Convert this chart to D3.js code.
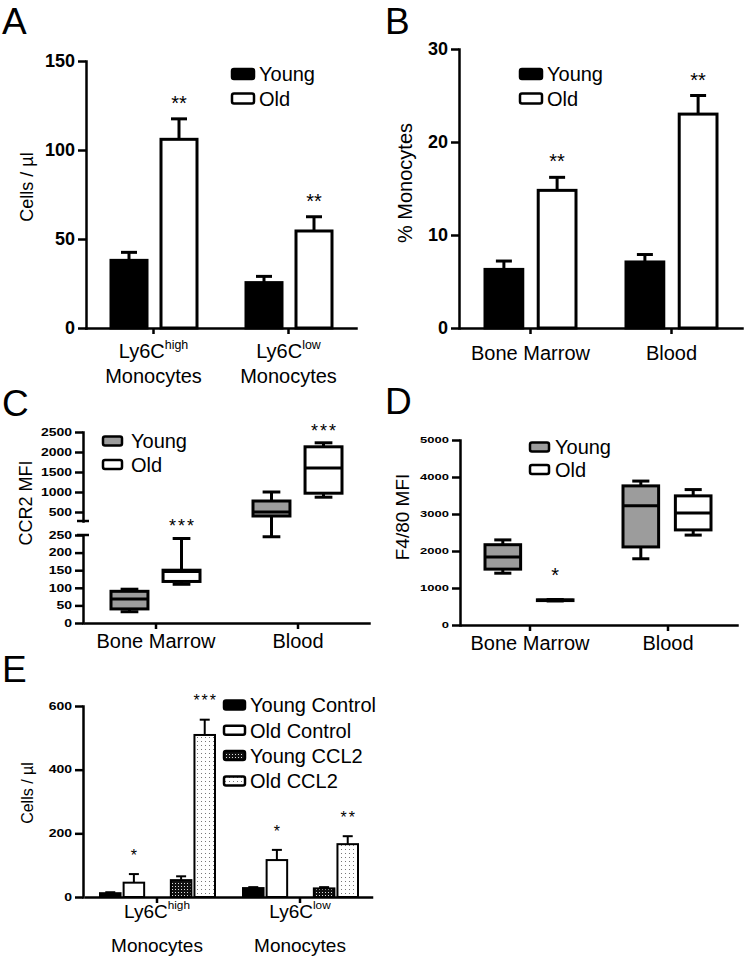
<!DOCTYPE html>
<html>
<head>
<meta charset="utf-8">
<script src="https://cdn.jsdelivr.net/npm/d3@7"></script>
<style>
  body { margin: 0; background: #fff; }
  svg { font-family: "Liberation Sans", Arial, sans-serif; }
</style>
</head>
<body>
<div id="fig"></div>
<script>
// ---------------- data ----------------
var ages = ["Young", "Old"];
var monoGroups = [["Ly6C", "high"], ["Ly6C", "low"]];
var tissues = ["Bone Marrow", "Blood"];

// A: cells / ul
var youngA = [38, 25.5], youngAErr = [4.5, 3.5];
var oldA = [106, 54.5], oldAErr = [11.5, 8];
var starsA = ["**", "**"];
var ticksA = [0, 50, 100, 150];

// B: % monocytes
var youngB = [6.3, 7.1], youngBErr = [0.9, 0.8];
var oldB = [14.8, 23.0], oldBErr = [1.4, 2.0];
var starsB = ["**", "**"];
var ticksB = [0, 10, 20, 30];

// C: CCR2 MFI, box stats [min, q1, median, q3, max]
var youngC = [[32, 40, 68, 90, 96], [245, 400, 500, 775, 1000]];
var oldC = [[110, 118, 146, 150, 240], [870, 970, 1600, 2130, 2230]];
var starsC = ["***", "***"];
var ticksCLow = [0, 50, 100, 150, 200, 250];
var ticksCUp = [500, 1000, 1500, 2000, 2500];

// D: F4/80 MFI
var youngD = [[1400, 1510, 1840, 2170, 2300], [1790, 2110, 3220, 3760, 3890]];
var oldD = [[650, 660, 670, 680, 690], [2430, 2570, 3030, 3490, 3660]];
var starsD = ["*", ""];
var ticksD = [0, 1000, 2000, 3000, 4000, 5000];

// E: cells / ul with CCL2
var seriesE = ["Young Control", "Old Control", "Young CCL2", "Old CCL2"];
var valuesE = [[12, 28], [45, 116], [53, 27], [509, 166]];
var errE = [[3, 3], [27, 32], [12, 4], [48, 25]];
var starsE = [["", ""], ["*", "*"], ["", ""], ["***", "**"]];
var ticksE = [0, 200, 400, 600];

// ---------------- svg ----------------
var svg = d3.select("#fig").append("svg")
  .attr("width", 746)
  .attr("height", 959);

var defs = svg.append("defs");
var pd = defs.append("pattern").attr("id", "dotsDark")
  .attr("patternUnits", "userSpaceOnUse").attr("width", 3).attr("height", 3);
pd.append("rect").attr("width", 3).attr("height", 3).attr("fill", "#111");
pd.append("rect").attr("x", 1).attr("y", 1).attr("width", 1).attr("height", 1).attr("fill", "#ddd");
var pl = defs.append("pattern").attr("id", "dotsLight")
  .attr("patternUnits", "userSpaceOnUse").attr("width", 4).attr("height", 4);
pl.append("rect").attr("width", 4).attr("height", 4).attr("fill", "#fff");
pl.append("rect").attr("x", 1).attr("y", 1).attr("width", 1).attr("height", 1).attr("fill", "#777");

var fillsE = ["#000", "#fff", "url(#dotsDark)", "url(#dotsLight)"];
var gray = "#9c9c9c";

// ---------------- helpers ----------------
function styleAxis(g, sw) {
  g.attr("font-family", null).attr("font-size", null);
  g.selectAll("path, line").attr("stroke", "#000").attr("stroke-width", sw);
  g.select(".domain").attr("stroke-linecap", "square");
}

function leftAxis(scale, ticks, x, fs, squish) {
  var g = svg.append("g").attr("transform", `translate(${x},0)`)
    .call(d3.axisLeft(scale).tickValues(ticks).tickFormat(d3.format("d"))
      .tickSize(8).tickSizeOuter(0).tickPadding(3));
  styleAxis(g, 2.5);
  g.selectAll("text")
    .attr("font-size", fs)
    .attr("font-weight", "bold")
    .attr("fill", "#000");
  if (squish) g.selectAll("text").attr("transform", "scale(1," + squish + ")");
  return g;
}

function bottomAxis(xBand, y) {
  var g = svg.append("g").attr("transform", `translate(0,${y})`)
    .call(d3.axisBottom(xBand).tickSize(6).tickSizeOuter(0).tickFormat(""));
  styleAxis(g, 2.5);
}

function panelLabel(t, x, y) {
  svg.append("text").attr("x", x).attr("y", y).attr("font-size", 37).text(t);
}

function yTitle(t, x, y, fs) {
  svg.append("text")
    .attr("transform", `translate(${x},${y}) rotate(-90)`)
    .attr("text-anchor", "middle")
    .attr("dy", "0.35em")
    .attr("font-size", fs)
    .text(t);
}

function monoLabels(xBand, y1, y2, fs) {
  monoGroups.forEach(function(m, i) {
    var cx = xBand(i) + xBand.bandwidth() / 2;
    var t = svg.append("text").attr("x", cx).attr("y", y1)
      .attr("text-anchor", "middle").attr("font-size", fs);
    t.append("tspan").text(m[0]);
    t.append("tspan").attr("dy", -9).attr("font-size", fs * 0.62).text(m[1]);
    svg.append("text").attr("x", cx).attr("y", y2)
      .attr("text-anchor", "middle").attr("font-size", fs).text("Monocytes");
  });
}

function tissueLabels(xBand, y, fs) {
  tissues.forEach(function(t, i) {
    svg.append("text").attr("x", xBand(i) + xBand.bandwidth() / 2).attr("y", y)
      .attr("text-anchor", "middle").attr("font-size", fs).text(t);
  });
}

function star(str, cx, topPx, gap, fs, ls) {
  if (!str) return;
  svg.append("text")
    .attr("x", cx + (ls || 0) / 2)
    .attr("y", topPx - gap + fs * 0.55)
    .attr("text-anchor", "middle")
    .attr("font-size", fs)
    .attr("letter-spacing", ls || 0)
    .text(str);
}

function bars(xBand, sub, y, key, vals, errs, fill, sw, capW, stars, starGap, starFs, starLs) {
  vals.forEach(function(v, i) {
    var x0 = xBand(i) + sub(key), w = sub.bandwidth(), cx = x0 + w / 2;
    var top = y(v + errs[i]);
    svg.append("line").attr("x1", cx).attr("x2", cx).attr("y1", y(v)).attr("y2", top)
      .attr("stroke", "#000").attr("stroke-width", sw);
    svg.append("line").attr("x1", cx - capW / 2).attr("x2", cx + capW / 2).attr("y1", top).attr("y2", top)
      .attr("stroke", "#000").attr("stroke-width", sw);
    svg.append("rect").attr("x", x0).attr("y", y(v)).attr("width", w).attr("height", y(0) - y(v))
      .attr("fill", fill).attr("stroke", "#000").attr("stroke-width", sw);
    if (stars) star(stars[i], cx, top, starGap, starFs, starLs);
  });
}

function boxes(xBand, sub, y, key, stats, fill, sw, stars, starGap, starFs, starLs) {
  stats.forEach(function(s, i) {
    var x0 = xBand(i) + sub(key), w = sub.bandwidth(), cx = x0 + w / 2, cw = w * 0.48;
    [[s[4], s[3]], [s[1], s[0]]].forEach(function(p) {
      svg.append("line").attr("x1", cx).attr("x2", cx).attr("y1", y(p[0])).attr("y2", y(p[1]))
        .attr("stroke", "#000").attr("stroke-width", sw);
    });
    [s[0], s[4]].forEach(function(v) {
      svg.append("line").attr("x1", cx - cw / 2).attr("x2", cx + cw / 2).attr("y1", y(v)).attr("y2", y(v))
        .attr("stroke", "#000").attr("stroke-width", sw);
    });
    svg.append("rect").attr("x", x0).attr("y", y(s[3])).attr("width", w).attr("height", y(s[1]) - y(s[3]))
      .attr("fill", fill).attr("stroke", "#000").attr("stroke-width", sw);
    svg.append("line").attr("x1", x0).attr("x2", x0 + w).attr("y1", y(s[2])).attr("y2", y(s[2]))
      .attr("stroke", "#000").attr("stroke-width", sw);
    if (stars) star(stars[i], cx, y(s[4]), starGap, starFs, starLs);
  });
}

function legend(x, y0, dy, labels, fills, bw, bh, tx) {
  labels.forEach(function(l, i) {
    var cy = y0 + i * dy;
    svg.append("rect").attr("x", x).attr("y", cy - bh / 2).attr("width", bw).attr("height", bh)
      .attr("rx", 2).attr("fill", fills[i]).attr("stroke", "#000").attr("stroke-width", 2.5);
    svg.append("text").attr("x", x + bw + tx).attr("y", cy + 7.2).attr("font-size", 20).text(l);
  });
}

// ---------------- A ----------------
var xA = d3.scaleBand().domain([0, 1]).range([86, 356]);
var subA = d3.scaleBand().domain(ages).range([25, 111]).paddingInner(0.28);
var yA = d3.scaleLinear().domain([0, 150]).range([328, 61]);
bars(xA, subA, yA, "Young", youngA, youngAErr, "#000", 3, 16);
bars(xA, subA, yA, "Old", oldA, oldAErr, "#fff", 3, 16, starsA, 20, 20);
leftAxis(yA, ticksA, 86, 18);
bottomAxis(xA, 328);
monoLabels(xA, 358, 383, 20);
yTitle("Cells / µl", 27, 187, 18);
legend(232, 74, 24.5, ages, ["#000", "#fff"], 22, 10, 5);
panelLabel("A", 2, 34);

// ---------------- B ----------------
var xB = d3.scaleBand().domain([0, 1]).range([460, 742]);
var subB = d3.scaleBand().domain(ages).range([25, 116]).paddingInner(0.29);
var yB = d3.scaleLinear().domain([0, 30]).range([328, 49]);
bars(xB, subB, yB, "Young", youngB, youngBErr, "#000", 3, 16);
bars(xB, subB, yB, "Old", oldB, oldBErr, "#fff", 3, 16, starsB, 20, 20);
leftAxis(yB, ticksB, 459, 18);
bottomAxis(xB, 328);
tissueLabels(xB, 360, 20);
yTitle("% Monocytes", 405, 183, 20);
legend(520, 74, 24.5, ages, ["#000", "#fff"], 22, 10, 5);
panelLabel("B", 385, 34);

// ---------------- C (broken axis) ----------------
var xC = d3.scaleBand().domain([0, 1]).range([85, 369]);
var subC = d3.scaleBand().domain(ages).range([26, 115]).paddingInner(0.29);
var yCLow = d3.scaleLinear().domain([0, 250]).range([623, 535]);
var yCUp = d3.scaleLinear().domain([275, 2500]).range([521, 432]);
var yC = function(v) { return v >= 260 ? yCUp(v) : yCLow(v); };
boxes(xC, subC, yC, "Young", youngC, gray, 3);
boxes(xC, subC, yC, "Old", oldC, "#fff", 3, starsC, 16, 18, 2);
leftAxis(yCLow, ticksCLow, 83, 14, 0.72);
leftAxis(yCUp, ticksCUp, 83, 14, 0.72);
[yCUp.range()[0], yCLow.range()[1]].forEach(function(yy) {
  svg.append("line").attr("x1", 77).attr("x2", 89).attr("y1", yy).attr("y2", yy)
    .attr("stroke", "#000").attr("stroke-width", 2.5);
});
bottomAxis(xC, 623);
tissueLabels(xC, 648, 20);
yTitle("CCR2 MFI", 26, 503, 18);
legend(103, 441, 23.5, ages, [gray, "#fff"], 19, 9, 9);
panelLabel("C", 2, 416);

// ---------------- D ----------------
var xD = d3.scaleBand().domain([0, 1]).range([461, 737]);
var subD = d3.scaleBand().domain(ages).range([24, 112]).paddingInner(0.32);
var yD = d3.scaleLinear().domain([0, 5000]).range([625, 440]);
boxes(xD, subD, yD, "Young", youngD, gray, 3);
boxes(xD, subD, yD, "Old", oldD, "#fff", 3, starsD, 28, 20);
leftAxis(yD, ticksD, 460, 13, 0.72);
bottomAxis(xD, 625);
tissueLabels(xD, 650, 20);
yTitle("F4/80 MFI", 402, 517, 19);
legend(530, 447, 22.5, ages, [gray, "#fff"], 19, 9, 6);
panelLabel("D", 385, 414);

// ---------------- E ----------------
var xE = d3.scaleBand().domain([0, 1]).range([85.5, 371.5]);
var slotsE = [seriesE[0], seriesE[1], "", seriesE[2], seriesE[3]];
var subE = d3.scaleBand().domain(slotsE).range([14.5, 129.5]).paddingInner(0.13);
var yE = d3.scaleLinear().domain([0, 600]).range([897, 706]);
seriesE.forEach(function(s, k) {
  bars(xE, subE, yE, s, valuesE[k], errE[k], fillsE[k], 2, 10, starsE[k], 22, 16, 2);
});
leftAxis(yE, ticksE, 83, 14, 0.72);
bottomAxis(xE, 897);
monoLabels(xE, 918, 952, 19);
yTitle("Cells / µl", 27, 793, 16);
legend(224, 705, 25.3, seriesE, fillsE, 21, 9, 5);
panelLabel("E", 2, 682);
</script>
</body>
</html>
